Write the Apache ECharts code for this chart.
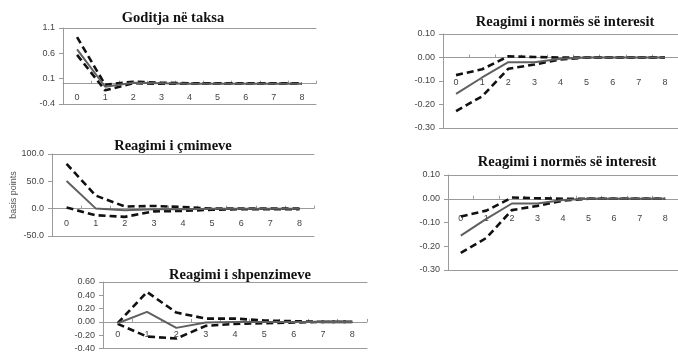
<!DOCTYPE html>
<html>
<head>
<meta charset="utf-8">
<script src="https://cdn.jsdelivr.net/npm/echarts@6/dist/echarts.min.js"></script>
<style>
  html, body { margin: 0; padding: 0; background: #fff; }
  #chart { width: 678px; height: 353px; }
</style>
</head>
<body>
<div id="chart"></div>
<script>
// Horizons (quarters after the shock)
const periods = ['0', '1', '2', '3', '4', '5', '6', '7', '8'];

// Goditja në taksa: impulse with upper / lower bands
const taxMid   = [0.68, -0.06, 0.02, 0.01, 0.0, 0.0, 0.0, 0.0, 0.0];
const taxUpper = [0.92, -0.02, 0.04, 0.02, 0.01, 0.01, 0.01, 0.01, 0.01];
const taxLower = [0.57, -0.13, 0.01, 0.0, 0.0, 0.0, 0.0, 0.0, 0.0];

// Reagimi i çmimeve (basis points)
const priceMid   = [50.5, 0.5, -3, -1, -1, 0, 0, 0, 0];
const priceUpper = [82, 24, 4, 5, 3, 0, 0, 0, 0];
const priceLower = [2, -12, -15, -5, -4, -2, -1, -1, -1];

// Reagimi i shpenzimeve
const spendMid   = [-0.02, 0.15, -0.09, -0.01, 0.0, 0.0, 0.0, 0.0, 0.0];
const spendUpper = [-0.02, 0.45, 0.14, 0.05, 0.05, 0.02, 0.01, 0.0, 0.0];
const spendLower = [-0.03, -0.22, -0.25, -0.06, -0.03, -0.02, -0.01, 0.0, 0.0];

// Reagimi i normës së interesit
const rateMid   = [-0.155, -0.085, -0.02, -0.02, -0.005, 0.0, 0.0, 0.0, 0.0];
const rateUpper = [-0.075, -0.05, 0.005, 0.002, 0.0, 0.0, 0.0, 0.0, 0.0];
const rateLower = [-0.228, -0.165, -0.048, -0.03, -0.008, 0.0, 0.0, 0.0, 0.0];

// labelShift: distance of the period labels above the lower frame line
const panels = [
  { title: 'Goditja në taksa', tx: 173, ty: 11, left: 63, top: 28, width: 253, height: 76,
    min: -0.4, max: 1.1, interval: 0.5, digits: 1, labelShift: -10.5,
    mid: taxMid, upper: taxUpper, lower: taxLower },
  { title: 'Reagimi i çmimeve', tx: 173, ty: 139, left: 52, top: 154, width: 262, height: 82,
    min: -50, max: 100, interval: 50, digits: 1, labelShift: -16.5, name: 'basis points',
    mid: priceMid, upper: priceUpper, lower: priceLower },
  { title: 'Reagimi i shpenzimeve', tx: 240, ty: 268, left: 103, top: 282, width: 264, height: 70,
    min: -0.4, max: 0.6, interval: 0.2, digits: 2, labelShift: -18.5,
    mid: spendMid, upper: spendUpper, lower: spendLower },
  { title: 'Reagimi i normës së interesit', tx: 565, ty: 15, left: 443, top: 34, width: 242, height: 94,
    min: -0.3, max: 0.1, interval: 0.1, digits: 2, labelShift: -49.5,
    mid: rateMid, upper: rateUpper, lower: rateLower },
  { title: 'Reagimi i normës së interesit', tx: 567, ty: 155, left: 448, top: 175, width: 234, height: 95,
    min: -0.3, max: 0.1, interval: 0.1, digits: 2, labelShift: -55.5,
    mid: rateMid, upper: rateUpper, lower: rateLower }
];

const labelFont = { fontFamily: 'Liberation Sans, Arial, sans-serif', fontSize: 9, color: '#444' };
const borderColor = '#9a9a9a';

const option = {
  animation: false,
  backgroundColor: '#ffffff',
  title: [], grid: [], xAxis: [], yAxis: [], series: []
};

panels.forEach((p, i) => {
  option.title.push({
    text: p.title, left: p.tx, top: p.ty, textAlign: 'center', padding: 0,
    textStyle: { fontFamily: 'Liberation Serif, Times New Roman, serif', fontWeight: 'bold',
                 fontSize: 14.5, color: '#111' }
  });
  option.grid.push({ left: p.left, top: p.top, width: p.width, height: p.height, containLabel: false });

  // category axis drawn along the zero line
  const xMain = option.xAxis.length;
  option.xAxis.push({
    type: 'category', gridIndex: i, data: periods, boundaryGap: true, position: 'bottom',
    axisLine: { onZero: true, lineStyle: { color: borderColor, width: 1 } },
    axisTick: { show: true, inside: true, length: 3, lineStyle: { color: borderColor } },
    axisLabel: { show: false },
    splitLine: { show: false }
  });
  // upper frame line
  option.xAxis.push({
    type: 'category', gridIndex: i, data: periods, position: 'top',
    axisLine: { onZero: false, lineStyle: { color: borderColor, width: 1 } },
    axisTick: { show: false }, axisLabel: { show: false }, splitLine: { show: false }
  });
  // lower frame line, carrying the period labels just under the zero line
  option.xAxis.push({
    type: 'category', gridIndex: i, data: periods, position: 'bottom',
    axisLine: { onZero: false, lineStyle: { color: borderColor, width: 1 } },
    axisTick: { show: false },
    axisLabel: Object.assign({ margin: p.labelShift, interval: 0, verticalAlign: 'top' }, labelFont),
    splitLine: { show: false }
  });

  const y = {
    type: 'value', gridIndex: i, min: p.min, max: p.max, interval: p.interval,
    axisLine: { show: true, onZero: false, lineStyle: { color: borderColor, width: 1 } },
    axisTick: { show: true, inside: false, length: 4, lineStyle: { color: borderColor } },
    axisLabel: Object.assign({ margin: 8, formatter: v => v.toFixed(p.digits) }, labelFont),
    splitLine: { show: false }
  };
  if (p.name) {
    Object.assign(y, {
      name: p.name, nameLocation: 'middle', nameGap: 30, nameRotate: 90,
      nameTextStyle: { fontFamily: 'Liberation Sans, Arial, sans-serif', fontSize: 9, color: '#555' }
    });
  }
  option.yAxis.push(y);

  const dashed = { type: [7, 4], color: '#111', width: 2.6 };
  [['upper', dashed], ['lower', dashed], ['mid', { type: 'solid', color: '#5f5f5f', width: 2 }]]
    .forEach(([key, ls]) => {
      option.series.push({
        type: 'line', xAxisIndex: xMain, yAxisIndex: i, data: p[key],
        symbol: 'none', lineStyle: ls, silent: true, z: key === 'mid' ? 3 : 2
      });
    });
});

const chart = echarts.init(document.getElementById('chart'), null, { renderer: 'canvas' });
chart.setOption(option);
</script>
</body>
</html>
